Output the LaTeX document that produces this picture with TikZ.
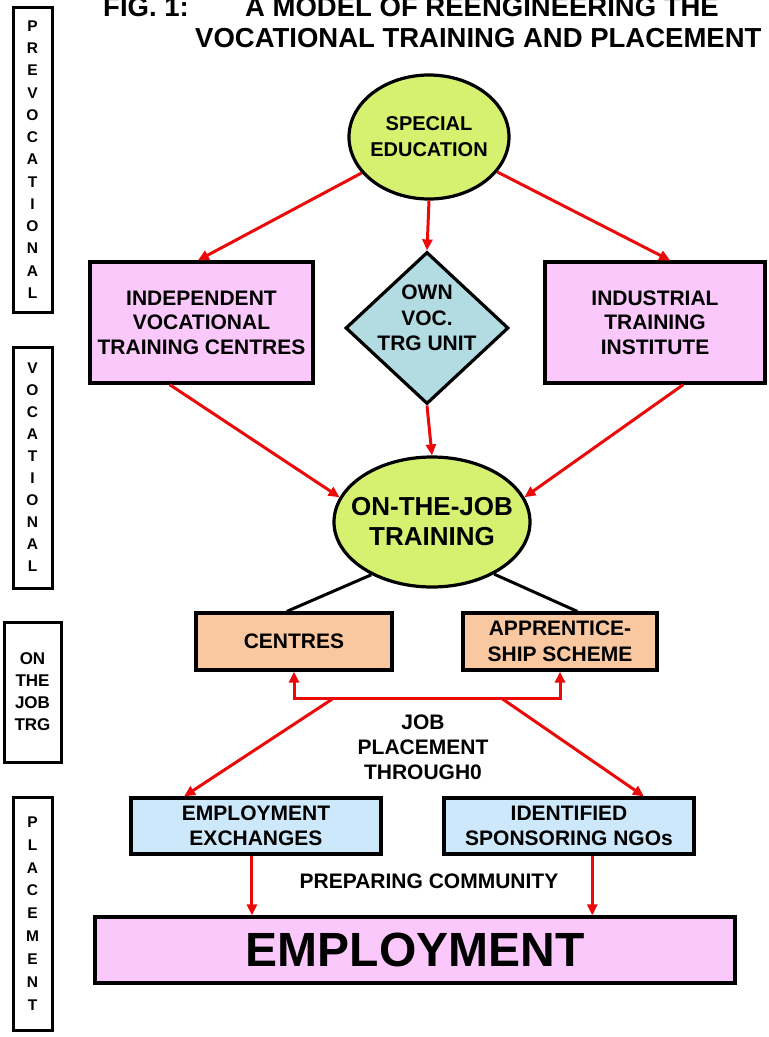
\documentclass[tikz,border=0pt]{standalone}
\usepackage{fontspec}
\setmainfont{Liberation Sans}
\usetikzlibrary{shapes.geometric,arrows.meta,calc}
\definecolor{limefill}{RGB}{214,240,112}
\definecolor{pinkfill}{RGB}{250,200,250}
\definecolor{tealfill}{RGB}{178,220,226}
\definecolor{peachfill}{RGB}{250,200,160}
\definecolor{skyfill}{RGB}{204,232,250}
\definecolor{flowred}{RGB}{235,10,10}
\newcommand\bsz[2]{\fontsize{#1}{#2}\selectfont\bfseries}
\begin{document}
\begin{tikzpicture}[x=1pt,y=-1pt,
  frame/.style={draw=black, line width=3.2pt, inner sep=0pt, align=center},
  sidebox/.style={draw=black, line width=3pt, inner sep=0pt, align=center},
  caption/.style={inner sep=0pt, align=center},
  tip/.tip={Triangle[length=11pt,width=10pt]},
  flow/.style={draw=flowred, line width=3pt, -tip},
  link/.style={draw=black, line width=3pt}]
\useasboundingbox (0,0) rectangle (769,1037);
\fill[white] (0,0) rectangle (769,1037);
\clip (0,0) rectangle (769,1037);

% heading
\node[caption, anchor=base west, font=\bsz{27.5}{31}] (figno) at (103,16) {FIG. 1:};
\node[caption, anchor=base west, font=\bsz{27.5}{31}] (title1) at (245,16) {A MODEL OF REENGINEERING THE};
\node[caption, anchor=base west, font=\bsz{27.5}{31}] (title2) at (195,47) {VOCATIONAL TRAINING AND PLACEMENT};

% stage labels on the left
\node[sidebox, minimum width=39, minimum height=305, font=\bsz{15.5}{22.25}] (prevoc) at (32.5,159.5)
  {P\\R\\E\\V\\O\\C\\A\\T\\I\\O\\N\\A\\L};
\node[sidebox, minimum width=39, minimum height=241, font=\bsz{15.5}{22}] (voc) at (32.5,467.5)
  {V\\O\\C\\A\\T\\I\\O\\N\\A\\L};
\node[sidebox, minimum width=57, minimum height=140, font=\bsz{17}{22}] (onjob) at (32.5,692)
  {ON\\THE\\JOB\\TRG};
\node[sidebox, minimum width=39, minimum height=233, font=\bsz{15.5}{22.9}] (place) at (32.5,913.5)
  {P\\L\\A\\C\\E\\M\\E\\N\\T};

% special education
\node[ellipse, frame, fill=limefill, minimum width=160, minimum height=124] (spec) at (429,137) {};
\node[caption, font=\bsz{20}{26}] (spectxt) at (spec) {SPECIAL\\EDUCATION};

% vocational stage
\node[frame, fill=pinkfill, minimum width=223, minimum height=121, font=\bsz{21}{24.5}] (indep) at (201.5,322.5)
  {INDEPENDENT\\VOCATIONAL\\TRAINING CENTRES};
\node[diamond, frame, fill=tealfill, minimum width=163, minimum height=152] (own) at (427,328) {};
\node[caption, font=\bsz{21}{25.5}] (owntxt) at ($(own)+(0,-10)$) {OWN\\VOC.\\TRG UNIT};
\node[frame, fill=pinkfill, minimum width=220, minimum height=121, font=\bsz{21}{24.5}] (indus) at (655,322.5)
  {INDUSTRIAL\\TRAINING\\INSTITUTE};

% on-the-job training
\node[ellipse, frame, fill=limefill, minimum width=196, minimum height=130] (ojt) at (432,522) {};
\node[caption, font=\bsz{26}{30}] (ojttxt) at (ojt) {ON-THE-JOB\\TRAINING};
\node[frame, fill=peachfill, minimum width=196, minimum height=57, font=\bsz{21}{26}] (cen) at (294,641.5) {CENTRES};
\node[frame, fill=peachfill, minimum width=194, minimum height=57, font=\bsz{21}{26}] (app) at (560,641.5)
  {APPRENTICE-\\SHIP SCHEME};

\node[caption, font=\bsz{21}{25}] (jobvia) at (423,747) {JOB\\PLACEMENT\\THROUGH0};

% placement
\node[frame, fill=skyfill, minimum width=250, minimum height=56, font=\bsz{21}{25}] (exch) at (256,826)
  {EMPLOYMENT\\EXCHANGES};
\node[frame, fill=skyfill, minimum width=250, minimum height=56, font=\bsz{21}{25}] (ngo) at (569,826)
  {IDENTIFIED\\SPONSORING NGOs};
\node[caption, font=\bsz{21}{25}] (prep) at (429,881) {PREPARING COMMUNITY};
\node[frame, fill=pinkfill, minimum width=640, minimum height=66, font=\bsz{48}{50}] (emp) at (415,950) {EMPLOYMENT};

% connectors
\draw[flow] (spec) -- ($(indep.north west)!0.484!(indep.north east)$);
\draw[flow] (spec) -- ($(indus.north west)!0.568!(indus.north east)$);
\draw[flow] (spec.south) -- (own.north);
\draw[flow] ($(indep.south west)!0.359!(indep.south east)$) -- (ojt.165);
\draw[flow] (own.south) -- (ojt.north);
\draw[flow] ($(indus.south west)!0.627!(indus.south east)$) -- (ojt.15);
\draw[link] (ojt.221) -- ($(cen.north west)!0.464!(cen.north east)$);
\draw[link] (ojt.320) -- ($(app.north west)!0.588!(app.north east)$);

\coordinate (bar) at ($(cen.south)+(0,27)$);
\coordinate (barl) at ($(bar)+(39,0)$);
\coordinate (barr) at ($(bar)+(208,0)$);
\draw[flowred, line width=3pt, tip-tip] (cen.south) -- (bar) -| (app.south);
\draw[flow] (barl) -- ($(exch.north west)!0.216!(exch.north east)$);
\draw[flow] (barr) -- ($(ngo.north west)!0.796!(ngo.north east)$);

\coordinate (exout) at ($(exch.south west)!0.484!(exch.south east)$);
\coordinate (ngout) at ($(ngo.south west)!0.592!(ngo.south east)$);
\draw[flow] (exout) -- (exout |- emp.north);
\draw[flow] (ngout) -- (ngout |- emp.north);
\end{tikzpicture}
\end{document}
